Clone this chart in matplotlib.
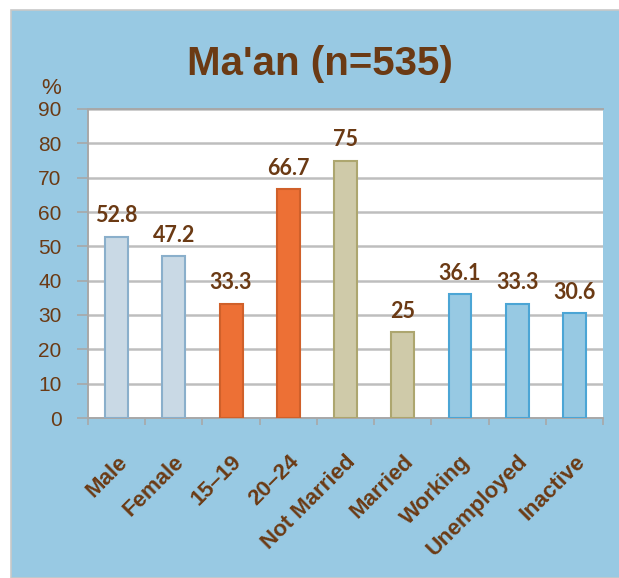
import matplotlib.pyplot as plt
from matplotlib.patches import Rectangle

categories = ['Male', 'Female', '15\u201319', '20\u201324', 'Not Married', 'Married',
              'Working', 'Unemployed', 'Inactive']
values = [52.8, 47.2, 33.3, 66.7, 75, 25, 36.1, 33.3, 30.6]
labels = ['52.8', '47.2', '33.3', '66.7', '75', '25', '36.1', '33.3', '30.6']
fills = ['#C9D9E5', '#C9D9E5', '#ED7035', '#ED7035', '#CFCAA9', '#CFCAA9',
         '#97C9E3', '#97C9E3', '#97C9E3']
edges = ['#8AAFCB', '#8AAFCB', '#D0602A', '#D0602A', '#ADA66F', '#ADA66F',
         '#4BA5D5', '#4BA5D5', '#4BA5D5']
yticks = [0, 10, 20, 30, 40, 50, 60, 70, 80, 90]

brown = '#6B3A14'
panel = '#98C9E3'
W, H = 619, 578

fig = plt.figure(figsize=(W / 100, H / 100), dpi=100)
fig.patch.set_facecolor('white')
fig.add_artist(Rectangle((11 / W, 0), 1, 1 - 10 / H, transform=fig.transFigure,
                         facecolor=panel, edgecolor='#C8C8C8', linewidth=1.2, zorder=-5))

ax = fig.add_axes([88 / W, 1 - 418 / H, (603 - 88) / W, (418 - 109) / H])
ax.set_zorder(1)
ax.set_facecolor('white')

x = range(len(categories))
ax.bar(x, values, width=0.4, color=fills, edgecolor=edges, linewidth=1.5, zorder=3)
for i, (v, t) in enumerate(zip(values, labels)):
    ax.text(i, v + 3, t, ha='center', va='bottom', color=brown,
            fontsize=15.5, fontweight='bold', family='Lato', zorder=4)

ax.set_xlim(-0.5, len(categories) - 0.5)
ax.set_ylim(0, 90)
ax.set_yticks(yticks)
ax.yaxis.grid(True, color='#BEBEBE', linewidth=1.8, zorder=1)
ax.set_axisbelow(True)
ax.set_xticks([i - 0.5 for i in range(len(categories) + 1)], minor=True)
ax.set_xticks(list(x))
ax.set_xticklabels(categories, rotation=45, ha='right', va='top',
                   rotation_mode='anchor', fontsize=16, fontweight='bold',
                   color=brown, family='Liberation Sans')
ax.tick_params(axis='x', which='major', length=0, pad=24)
ax.tick_params(axis='x', which='minor', length=5, color='#A8A8A8', width=1.2)
ax.tick_params(axis='y', length=8, color='#A8A8A8', width=1.2, labelsize=15,
               labelcolor=brown, pad=11)
for lab in ax.get_yticklabels():
    lab.set_family('Liberation Sans')

for s in ['left', 'bottom', 'top']:
    ax.spines[s].set_color('#A8A8A8')
    ax.spines[s].set_linewidth(1.4)
ax.spines['right'].set_visible(False)

fig.text(320 / W, 1 - 64 / H, "Ma'an (n=535)", ha='center', va='center',
         fontsize=29, fontweight='bold', color=brown, family='Liberation Sans')
fig.text(51 / W, 1 - 89 / H, '%', ha='center', va='center', fontsize=16,
         color=brown, family='Liberation Sans')

fig.savefig('out.png', dpi=100)
